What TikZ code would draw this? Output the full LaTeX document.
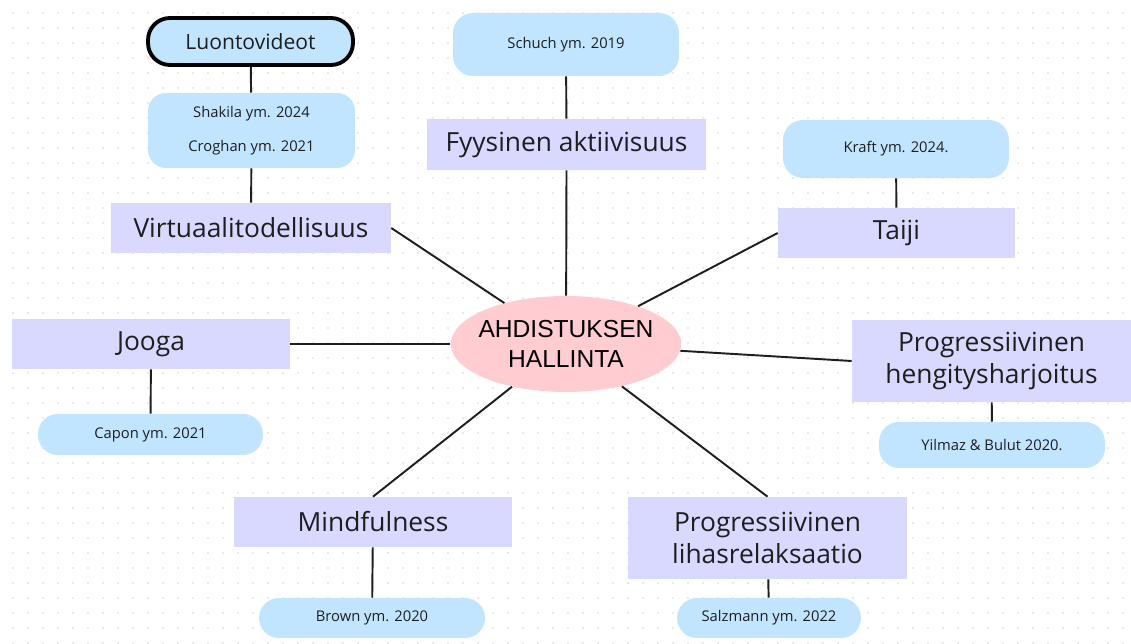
\documentclass[tikz,border=0pt]{standalone}
\usepackage{fontspec}
\setmainfont{Open Sans}
\newfontfamily\ctrfont{Liberation Sans}
\usetikzlibrary{shapes.geometric}

\definecolor{refblue}{HTML}{C2E5FF}
\definecolor{methodlav}{HTML}{D9D9FF}
\definecolor{ctrpink}{HTML}{FFCCD2}
\definecolor{griddot}{HTML}{D4D4D4}
\definecolor{inkline}{HTML}{1E1E1E}

\begin{document}
\begin{tikzpicture}
[x=0.02cm,y=-0.02cm
,method/.style={fill=methodlav,text=inkline,align=center,inner sep=0pt
   ,font=\fontsize{15}{18.7}\selectfont}
,ref/.style={fill=refblue,rounded corners=0.4cm,text=inkline,align=center,inner sep=0pt
   ,font=\fontsize{8.4}{10}\selectfont}
,spoke/.style={draw=inkline,line width=1.1pt}
]

% canvas and dot grid
\useasboundingbox[fill=white] (0,0) rectangle (1131,644);
\foreach \i in {0,...,75}
  \foreach \j in {0,...,42}
    \fill[griddot] (13+15*\i,13+15*\j) circle[radius=0.018cm];

% centre
\node[ellipse,fill=ctrpink,inner xsep=-0.12cm,inner ysep=0pt,minimum width=4.56cm,minimum height=1.92cm
     ,align=center,font=\ctrfont\fontsize{14}{17.5}\selectfont] (ctr) at (566,344)
     {AHDISTUKSEN\\HALLINTA};

% methods
\node[method,minimum width=5.6cm,minimum height=1cm]     (virt)  at (251,228)   {Virtuaalitodellisuus};
\node[method,minimum width=5.58cm,minimum height=1.02cm] (fyys)  at (566.5,144.5) {Fyysinen aktiivisuus};
\node[method,minimum width=4.74cm,minimum height=1cm]    (taiji) at (896.5,233) {Taiji};
\node[method,minimum width=5.56cm,minimum height=1cm]    (jooga) at (151,344)   {Jooga};
\node[method,minimum width=5.58cm,minimum height=1.64cm] (heng)  at (991.5,361) {Progressiivinen\\hengitysharjoitus};
\node[method,minimum width=5.56cm,minimum height=1cm]    (mind)  at (373,522)   {Mindfulness};
\node[method,minimum width=5.58cm,minimum height=1.64cm] (lihas) at (767.5,538) {Progressiivinen\\lihasrelaksaatio};

% sources
\node[ref,minimum width=4.1cm,minimum height=0.94cm,draw=black,line width=2.2pt,rounded corners=0.44cm
     ,font=\fontsize{12}{14}\selectfont] (luonto) at (250.5,41.5) {Luontovideot};
\node[ref,minimum width=4.14cm,minimum height=1.5cm,rounded corners=0.36cm] (shakila) at (251.5,130.5)
     {Shakila ym. 2024\\[9pt]Croghan ym. 2021};
\node[ref,minimum width=4.52cm,minimum height=1.26cm] (schuch) at (566,44.5)  {Schuch ym. 2019};
\node[ref,minimum width=4.52cm,minimum height=1.16cm] (kraft)  at (896,149)   {Kraft ym. 2024.};
\node[ref,minimum width=4.5cm,minimum height=0.82cm]  (capon)  at (150.5,434.5) {Capon ym. 2021};
\node[ref,minimum width=4.52cm,minimum height=0.92cm] (yilmaz) at (992,445)   {Yilmaz \& Bulut 2020.};
\node[ref,minimum width=4.52cm,minimum height=0.8cm]  (brown)  at (372,618)   {Brown ym. 2020};
\node[ref,minimum width=3.68cm,minimum height=0.8cm]  (salz)   at (769,618)   {Salzmann ym. 2022};

% spokes
\draw[spoke] (virt.east) -- (ctr);
\draw[spoke] (fyys.south) -- (ctr);
\draw[spoke] (taiji.west) -- (ctr);
\draw[spoke] (jooga.east) -- (ctr);
\draw[spoke] (heng.west) -- (ctr);
\draw[spoke] (mind.north) -- (ctr);
\draw[spoke] (lihas.north) -- (ctr);

% method to source
\draw[spoke] (luonto) -- (shakila);
\draw[spoke] (shakila) -- (virt);
\draw[spoke] (schuch) -- (fyys);
\draw[spoke] (kraft) -- (taiji);
\draw[spoke] (jooga) -- (capon);
\draw[spoke] (heng) -- (yilmaz);
\draw[spoke] (mind) -- (brown);
\draw[spoke] (lihas) -- (salz);

\end{tikzpicture}
\end{document}
